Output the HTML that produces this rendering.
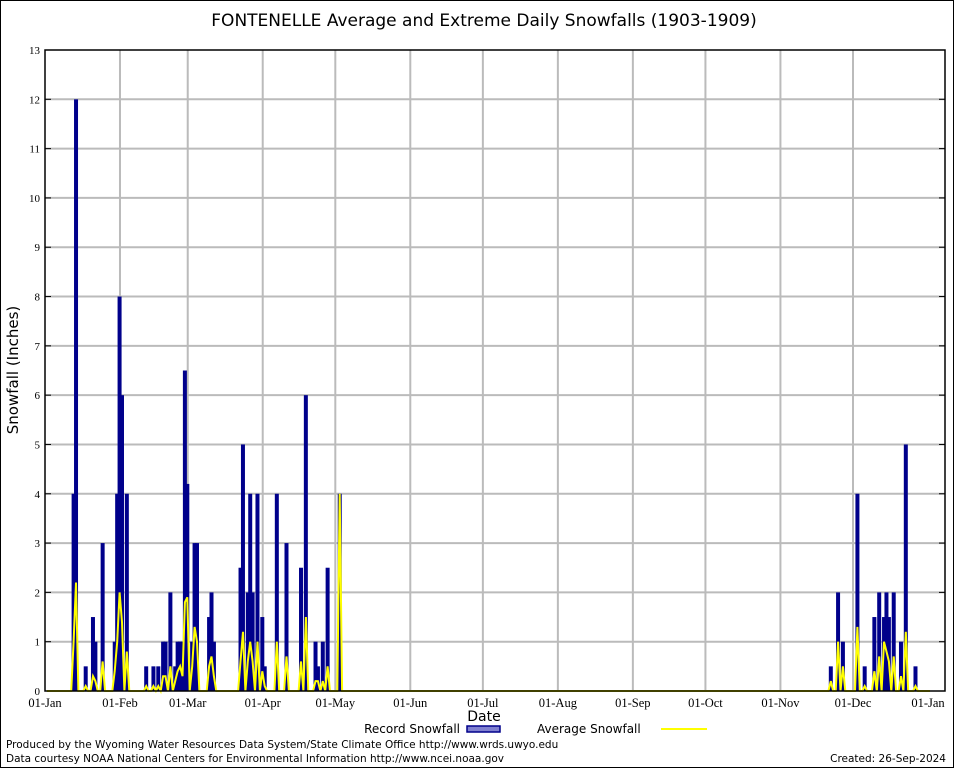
<!DOCTYPE html>
<html><head><meta charset="utf-8"><style>
body{margin:0;background:#fff}
svg{display:block}
.t{font-family:"DejaVu Sans","Liberation Sans",sans-serif}
.s{font-family:"Liberation Serif",serif}
</style></head><body>
<svg id="c" width="954" height="768">
<rect x="0.5" y="0.5" width="953" height="767" fill="#fff" stroke="#000"/>
<text class="t" x="484" y="26" font-size="17" text-anchor="middle">FONTENELLE Average and Extreme Daily Snowfalls (1903-1909)</text>
<text class="t" x="18" y="370" font-size="15" text-anchor="middle" transform="rotate(-90 18 370)">Snowfall (Inches)</text>
<text class="t" x="484" y="721" font-size="14" text-anchor="middle">Date</text>
<text class="t" x="460" y="733" font-size="12" text-anchor="end">Record Snowfall</text>
<rect x="467" y="726" width="33" height="6" fill="#8080d0" stroke="#00008b" stroke-width="1.5"/>
<text class="t" x="537" y="733" font-size="12">Average Snowfall</text>
<line x1="661" y1="729" x2="707" y2="729" stroke="#ffff00" stroke-width="2"/>
<text class="t" x="6" y="748" font-size="10.5">Produced by the Wyoming Water Resources Data System/State Climate Office http://www.wrds.uwyo.edu</text>
<text class="t" x="6" y="762" font-size="10.5">Data courtesy NOAA National Centers for Environmental Information http://www.ncei.noaa.gov</text>
<text class="t" x="946" y="762" font-size="10.5" text-anchor="end">Created: 26-Sep-2024</text>
<g id="grid"></g><g id="bars"></g><g id="avg"></g><g id="axes"></g>
</svg>
<script>
const monthLabels=["01-Jan","01-Feb","01-Mar","01-Apr","01-May","01-Jun","01-Jul","01-Aug","01-Sep","01-Oct","01-Nov","01-Dec","01-Jan"];
const monthDays=[0,31,59,90,120,151,181,212,243,273,304,334,365];
const yTicks=[0,1,2,3,4,5,6,7,8,9,10,11,12,13];
const recDays=[11,12,16,19,20,23,28,29,30,31,33,41,44,46,48,49,51,53,54,55,56,57,58,60,61,62,67,68,69,80,81,83,84,85,87,89,90,95,99,105,107,111,112,114,116,121,324,327,329,335,338,342,344,346,347,348,350,353,355,359];
const recVals=[4,12,0.5,1.5,1,3,1,4,8,6,4,0.5,0.5,0.5,1,1,2,0.5,1,1,1,6.5,4.2,1,3,3,1.5,2,1,2.5,5,2,4,2,4,1.5,0.5,4,3,2.5,6,1,0.5,1,2.5,4,0.5,2,1,4,0.5,1.5,2,1.5,2,1.5,2,1,5,0.5];
const avgVals=[1.0,2.2,0.1,0.3,0.2,0.6,0.4,1.0,2.0,1.4,0.8,0.1,0.1,0.1,0.3,0.3,0.5,0.2,0.4,0.5,0.3,1.8,1.9,0.5,1.3,1.0,0.5,0.7,0.3,0.6,1.2,0.6,1.0,0.6,1.0,0.4,0.1,1.0,0.7,0.6,1.5,0.2,0.2,0.2,0.5,4.0,0.2,1.0,0.5,1.3,0.1,0.4,0.7,1.0,0.8,0.6,0.7,0.3,1.2,0.1];
const NS="http://www.w3.org/2000/svg";
const L=45,R=945,T=50,B=691;
const xS=d=>L+d*(928-L)/365;
const yS=v=>B-v*(B-T)/13;
function mk(tag,at,p){const e=document.createElementNS(NS,tag);for(const k in at)e.setAttribute(k,at[k]);p.appendChild(e);return e;}
const g=document.getElementById('grid'),ax=document.getElementById('axes');
yTicks.forEach(v=>{
 if(v>0&&v<13){const l=mk('line',{x1:L,x2:R,y1:yS(v),y2:yS(v),stroke:'#bbb','stroke-width':2},g);
 
 }
 const t=mk('text',{x:L-5,y:yS(v)+4,'font-size':11,'text-anchor':'end',class:'s'},ax);t.textContent=v;
 
 
 mk('line',{x1:L,x2:L+6,y1:yS(v),y2:yS(v),stroke:'#000'},ax);
 mk('line',{x1:R,x2:R-6,y1:yS(v),y2:yS(v),stroke:'#000'},ax);
});
monthDays.forEach((d,i)=>{
 const x=xS(d);
 if(i>0&&i<12){const l=mk('line',{x1:x,x2:x,y1:T,y2:B,stroke:'#bbb','stroke-width':2},g);
 
 }
 const t=mk('text',{x:x,y:707,'font-size':12.5,'text-anchor':'middle',class:'s'},ax);t.textContent=monthLabels[i];
 
 
});
const b=document.getElementById('bars');
recDays.forEach((d,i)=>{
 const r=mk('rect',{x:xS(d),y:yS(recVals[i]),width:4,height:B-yS(recVals[i]),fill:'#00008b'},b);
 
 
});
const av=new Array(366).fill(0);recDays.forEach((d,i)=>av[d]=avgVals[i]);
let p='';for(let d=0;d<=365;d++){p+=(d?'L':'M')+(xS(d)+2).toFixed(1)+','+yS(av[d]).toFixed(1);}
const pl=mk('path',{d:p,fill:'none',stroke:'#ffff00','stroke-width':2},document.getElementById('avg'));


const fr=mk('rect',{x:L,y:T,width:R-L,height:B-T,fill:'none',stroke:'#000','stroke-width':1.5},ax);


</script>
</body></html>
